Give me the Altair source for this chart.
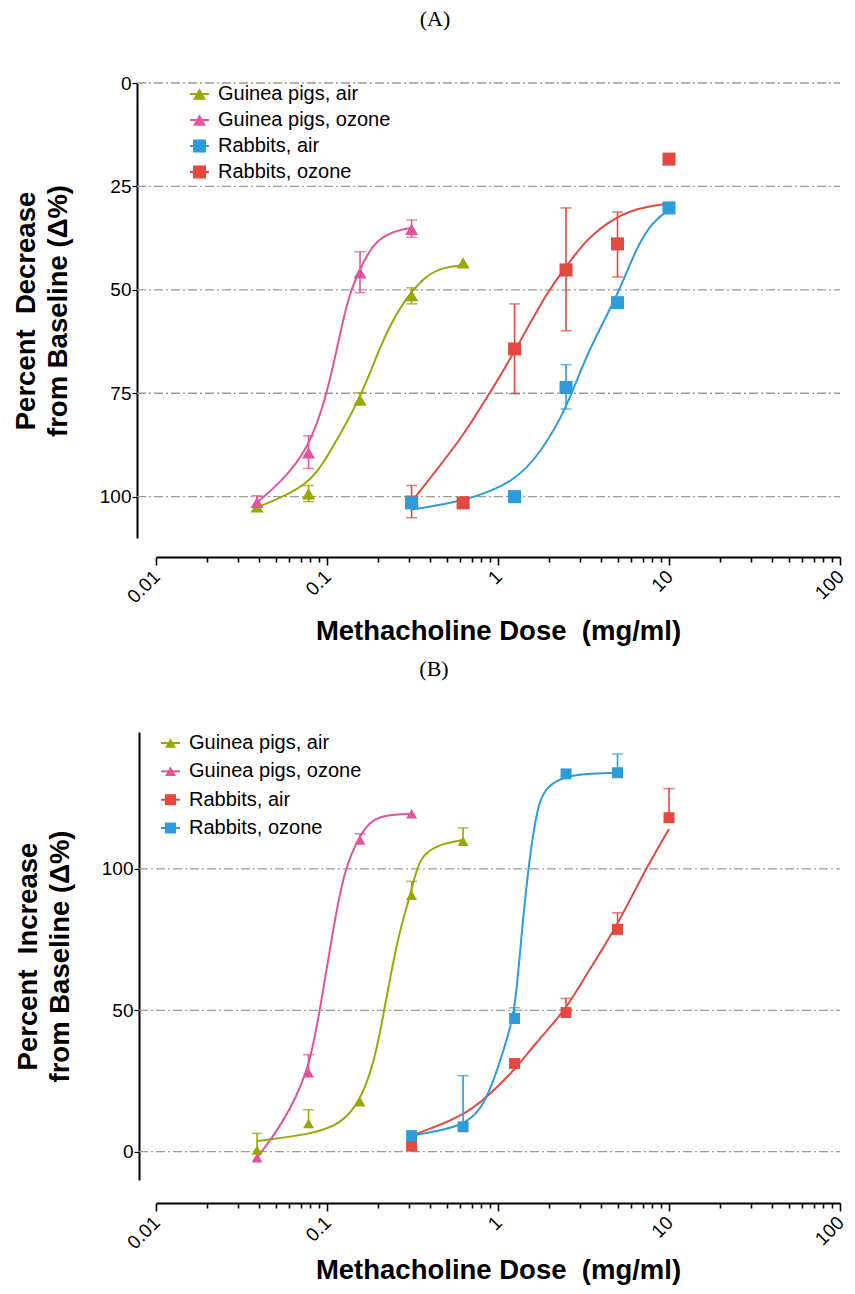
import altair as alt
import pandas as pd

FONT = "Liberation Sans"
SERIES = ["Guinea pigs, air", "Guinea pigs, ozone", "Rabbits, air", "Rabbits, ozone"]
SHAPES = ["triangle-up", "triangle-up", "square", "square"]
OLIVE, PINK, BLUE, RED = "#9AA800", "#E2559A", "#2D9CDB", "#E5483E"
COLORS_A = [OLIVE, PINK, BLUE, RED]
COLORS_B = [OLIVE, PINK, RED, BLUE]

X_TICKS = [0.01, 0.02, 0.03, 0.04, 0.05, 0.06, 0.07, 0.08, 0.09,
           0.1, 0.2, 0.3, 0.4, 0.5, 0.6, 0.7, 0.8, 0.9,
           1, 2, 3, 4, 5, 6, 7, 8, 9,
           10, 20, 30, 40, 50, 60, 70, 80, 90, 100]

# ---------------- Panel A: percent decrease ----------------
A_GRID = [0, 25, 50, 75, 100]
A_gp_air_dose = [0.039, 0.078, 0.156, 0.3125, 0.625]
A_gp_air_val = [102.5, 99.3, 76.6, 51.4, 43.5]
A_gp_air_lo = [None, 97.3, 74.9, 49.5, None]
A_gp_air_hi = [None, 101.2, 77.8, 53.4, None]

A_gp_oz_dose = [0.039, 0.078, 0.156, 0.3125]
A_gp_oz_val = [101.4, 89.4, 45.9, 35.4]
A_gp_oz_lo = [99.8, 85.3, 40.8, 33.1]
A_gp_oz_hi = [102.4, 93.2, 50.7, 37.3]

A_rb_air_dose = [0.3125, 1.25, 2.5, 5, 10]
A_rb_air_val = [101.5, 100.0, 73.6, 53.1, 30.2]
A_rb_air_lo = [None, None, 68.1, None, None]
A_rb_air_hi = [None, None, 78.8, None, None]

A_rb_oz_dose = [0.3125, 0.625, 1.25, 2.5, 5, 10]
A_rb_oz_val = [101.3, 101.5, 64.3, 45.2, 38.9, 18.4]
A_rb_oz_lo = [97.3, None, 53.4, 30.2, 31.2, None]
A_rb_oz_hi = [105.1, None, 75.1, 59.9, 46.9, None]

# fitted curves
A_fit_gp_air_dose = [0.039, 0.078, 0.103, 0.156, 0.207, 0.26, 0.3125, 0.382, 0.476, 0.625]
A_fit_gp_air_val = [102.6, 97.6, 89.5, 76.6, 63.0, 55.0, 50.4, 46.5, 44.6, 44.0]
A_fit_gp_oz_dose = [0.039, 0.0532, 0.078, 0.1007, 0.12, 0.135, 0.156, 0.1816, 0.226, 0.3125]
A_fit_gp_oz_val = [101.4, 96.7, 88.6, 75.0, 60.0, 51.0, 45.0, 39.5, 36.2, 35.0]
A_fit_rb_air_dose = [0.3125, 0.625, 1.25, 1.8, 2.5, 3.31, 5, 6.4, 8, 10]
A_fit_rb_air_val = [103.1, 101.2, 96.6, 89.0, 79.0, 65.2, 51.5, 40.0, 33.5, 30.7]
A_fit_rb_oz_dose = [0.3125, 0.625, 0.893, 1.25, 1.934, 2.5, 3.31, 5, 7, 10]
A_fit_rb_oz_val = [101.2, 85.5, 75.0, 65.0, 50.5, 44.5, 37.5, 32.0, 30.0, 29.2]

# ---------------- Panel B: percent increase ----------------
B_GRID = [0, 50, 100]
B_gp_air_dose = [0.039, 0.078, 0.156, 0.3125, 0.625]
B_gp_air_val = [0.6, 10.0, 17.7, 90.7, 109.8]
B_gp_air_hi = [6.5, 14.8, None, 95.6, 114.5]

B_gp_oz_dose = [0.039, 0.078, 0.156, 0.3125]
B_gp_oz_val = [-2.1, 27.9, 110.2, 119.5]
B_gp_oz_hi = [None, 34.3, 112.4, None]

B_rb_air_dose = [0.3125, 1.25, 2.5, 5, 10]
B_rb_air_val = [2.0, 31.2, 49.2, 78.6, 118.1]
B_rb_air_hi = [None, None, 54.2, 84.5, 128.4]

B_rb_oz_dose = [0.3125, 0.625, 1.25, 2.5, 5]
B_rb_oz_val = [5.7, 8.8, 47.1, 133.6, 134.0]
B_rb_oz_hi = [None, 26.9, 50.9, None, 140.6]

B_fit_gp_air_dose = [0.039, 0.078, 0.12, 0.156, 0.19, 0.216, 0.26, 0.3125, 0.344, 0.44, 0.625]
B_fit_gp_air_val = [3.8, 6.0, 9.5, 17.7, 32.0, 50.0, 76.6, 92.0, 104.0, 108.5, 110.2]
B_fit_gp_oz_dose = [0.039, 0.0546, 0.078, 0.0908, 0.108, 0.126, 0.156, 0.183, 0.23, 0.3125]
B_fit_gp_oz_val = [-2.1, 9.5, 27.9, 50.0, 77.7, 100.0, 112.0, 117.5, 119.2, 119.5]
B_fit_rb_air_dose = [0.3125, 0.625, 0.889, 1.25, 1.65, 2.5, 3.31, 5, 7, 10]
B_fit_rb_air_val = [5.7, 12.4, 20.1, 28.8, 38.3, 50.2, 63.0, 80.0, 98.0, 114.1]
B_fit_rb_oz_dose = [0.3125, 0.625, 0.81, 0.97, 1.13, 1.26, 1.377, 1.52, 1.7, 1.88, 2.5, 5]
B_fit_rb_oz_val = [5.7, 8.8, 15.3, 27.1, 40.0, 50.0, 78.0, 103.0, 122.0, 128.5, 133.6, 134.0]


def frames(point_sets, fit_sets, order):
    pts, errs, caps, fits = [], [], [], []
    for name in order:
        dose, val, lo, hi = point_sets[name]
        for i, d in enumerate(dose):
            pts.append({"series": name, "dose": d, "val": val[i]})
            l = lo[i] if lo is not None else None
            h = hi[i] if hi is not None else None
            if h is not None or l is not None:
                bottom = l if l is not None else val[i]
                top = h if h is not None else val[i]
                errs.append({"series": name, "dose": d, "lo": bottom, "hi": top})
                if l is not None:
                    caps.append({"series": name, "dose": d, "c": l})
                if h is not None:
                    caps.append({"series": name, "dose": d, "c": h})
    for name in SERIES:
        dose, val = fit_sets[name]
        for d, v in zip(dose, val):
            fits.append({"series": name, "dose": d, "val": v})
    return (pd.DataFrame(pts), pd.DataFrame(errs), pd.DataFrame(caps), pd.DataFrame(fits))


MAJOR = "abs(log(datum.value)/LN10 - round(log(datum.value)/LN10)) < 0.001"


def panel(tag, tag_xy, colors, sizes, point_sets, fit_sets, order, grid_vals, y_dom, y_rev,
          y_title, W, H, y_off, x_off, y_tpad, x_tpad, leg_rows, leg_x):
    pts, errs, caps, fits = frames(point_sets, fit_sets, order)
    color = alt.Color("series:N", scale=alt.Scale(domain=SERIES, range=colors), legend=None)
    shape = alt.Shape("series:N", scale=alt.Scale(domain=SERIES, range=SHAPES), legend=None)
    size = alt.Size("series:N", scale=alt.Scale(domain=SERIES, range=sizes), legend=None)
    xs = alt.Scale(type="log", domain=[0.01, 100])
    ys = alt.Scale(domain=y_dom, reverse=y_rev, nice=False, zero=False)
    xaxis = alt.Axis(
        values=X_TICKS, title="Methacholine Dose\u00a0 (mg/ml)",
        labelExpr=MAJOR + " ? datum.value + '' : ''",
        tickSize={"condition": {"test": MAJOR, "value": 8}, "value": 5},
        labelAngle=-45, labelFontSize=19, labelFont=FONT, labelColor="black",
        labelOffset=-6,
        tickColor="black", tickWidth=1.6, domainColor="black", domainWidth=2,
        offset=x_off, grid=False, titleFont=FONT, titleFontSize=27.5, titleFontWeight="bold",
        titleColor="black", titlePadding=x_tpad, labelPadding=2, labelOverlap=False,
        labelFlush=False)
    yaxis = alt.Axis(
        values=grid_vals, title=y_title, offset=y_off, grid=False,
        labelFontSize=19, labelFont=FONT, labelColor="black", tickColor="black", tickSize=5,
        tickWidth=1.2, domainColor="black", domainWidth=2, titleFont=FONT, titleFontSize=27.5,
        titleFontWeight="bold", titleColor="black", titleLineHeight=32, titlePadding=y_tpad,
        labelPadding=1)

    grid_df = pd.DataFrame({"g": grid_vals})
    grid = alt.Chart(grid_df).mark_rule(color="#9b9b9b", strokeDash=[9, 3, 2, 3], strokeWidth=1.3).encode(
        y=alt.Y("g:Q", scale=ys, axis=yaxis), x=alt.value(-y_off), x2=alt.value(W))
    lines = alt.Chart(fits).mark_line(interpolate="basis", strokeWidth=2).encode(
        x=alt.X("dose:Q", scale=xs, axis=xaxis), y=alt.Y("val:Q", scale=ys, axis=None),
        color=color, detail="series:N")
    bars = alt.Chart(errs).mark_rule(strokeWidth=1.6).encode(
        x=alt.X("dose:Q", scale=xs), y=alt.Y("lo:Q", scale=ys, axis=None), y2="hi:Q", color=color)
    capm = alt.Chart(caps).mark_tick(orient="horizontal", size=11, thickness=1.6).encode(
        x=alt.X("dose:Q", scale=xs), y=alt.Y("c:Q", scale=ys, axis=None), color=color)
    points = alt.Chart(pts).mark_point(filled=True, opacity=1).encode(
        x=alt.X("dose:Q", scale=xs), y=alt.Y("val:Q", scale=ys, axis=None),
        color=color, shape=shape, size=size)

    leg_df = pd.DataFrame({"series": SERIES})
    ly = alt.Y("series:N", sort=SERIES, axis=None,
               scale=alt.Scale(type="point", domain=SERIES, range=leg_rows, padding=0))
    l0, l1, lt = leg_x
    leg_line = alt.Chart(leg_df).mark_rule(strokeWidth=2).encode(
        x=alt.value(l0), x2=alt.value(l1), y=ly, color=color)
    leg_pt = alt.Chart(leg_df).mark_point(filled=True, opacity=1).encode(
        x=alt.value((l0 + l1) / 2), y=ly, color=color, shape=shape, size=size)
    leg_txt = alt.Chart(leg_df).mark_text(align="left", baseline="middle", fontSize=20,
                                          font=FONT, color="black").encode(
        x=alt.value(lt), y=ly, text="series:N")

    tag_df = pd.DataFrame({"t": [tag]})
    tag_txt = alt.Chart(tag_df).mark_text(align="center", baseline="top", fontSize=22,
                                          font="Liberation Serif", color="black").encode(
        x=alt.value(tag_xy[0]), y=alt.value(tag_xy[1]), text="t:N")

    return alt.layer(grid, lines, bars, capm, points, leg_line, leg_pt, leg_txt, tag_txt).resolve_scale(
        y="independent").properties(width=W, height=H)


A_points = {
    "Guinea pigs, air": (A_gp_air_dose, A_gp_air_val, A_gp_air_lo, A_gp_air_hi),
    "Guinea pigs, ozone": (A_gp_oz_dose, A_gp_oz_val, A_gp_oz_lo, A_gp_oz_hi),
    "Rabbits, air": (A_rb_air_dose, A_rb_air_val, A_rb_air_lo, A_rb_air_hi),
    "Rabbits, ozone": (A_rb_oz_dose, A_rb_oz_val, A_rb_oz_lo, A_rb_oz_hi),
}
A_fits = {
    "Guinea pigs, air": (A_fit_gp_air_dose, A_fit_gp_air_val),
    "Guinea pigs, ozone": (A_fit_gp_oz_dose, A_fit_gp_oz_val),
    "Rabbits, air": (A_fit_rb_air_dose, A_fit_rb_air_val),
    "Rabbits, ozone": (A_fit_rb_oz_dose, A_fit_rb_oz_val),
}
B_points = {
    "Guinea pigs, air": (B_gp_air_dose, B_gp_air_val, None, B_gp_air_hi),
    "Guinea pigs, ozone": (B_gp_oz_dose, B_gp_oz_val, None, B_gp_oz_hi),
    "Rabbits, air": (B_rb_air_dose, B_rb_air_val, None, B_rb_air_hi),
    "Rabbits, ozone": (B_rb_oz_dose, B_rb_oz_val, None, B_rb_oz_hi),
}
B_fits = {
    "Guinea pigs, air": (B_fit_gp_air_dose, B_fit_gp_air_val),
    "Guinea pigs, ozone": (B_fit_gp_oz_dose, B_fit_gp_oz_val),
    "Rabbits, air": (B_fit_rb_air_dose, B_fit_rb_air_val),
    "Rabbits, ozone": (B_fit_rb_oz_dose, B_fit_rb_oz_val),
}

W = 684
chartA = panel("(A)", (279, -74), COLORS_A, [170, 170, 150, 150], A_points, A_fits,
               ["Guinea pigs, air", "Guinea pigs, ozone", "Rabbits, ozone", "Rabbits, air"],
               A_GRID, [0, 110], True, ["Percent\u00a0 Decrease", "from Baseline (\u0394%)"],
               W, 455, 19, 19, 27, 11, [11, 89], (34, 53, 62))
chartB = panel("(B)", (278, -73), COLORS_B, [120, 120, 110, 110], B_points, B_fits,
               ["Guinea pigs, air", "Guinea pigs, ozone", "Rabbits, air", "Rabbits, ozone"],
               B_GRID, [-10, 148.4], False, ["Percent\u00a0 Increase", "from Baseline (\u0394%)"],
               W, 448, 17, 23, 27, 4, [11, 96], (5, 24, 33))

chart = alt.vconcat(chartA, chartB, spacing=12).resolve_scale(
    color="independent", size="independent").properties(
    padding={"left": 4, "top": 0, "right": -1, "bottom": 0}).configure(
    background="white", view=alt.ViewConfig(strokeWidth=0, stroke="transparent"))
chart.save("out.html", embed_options={"renderer": "svg", "actions": False})
